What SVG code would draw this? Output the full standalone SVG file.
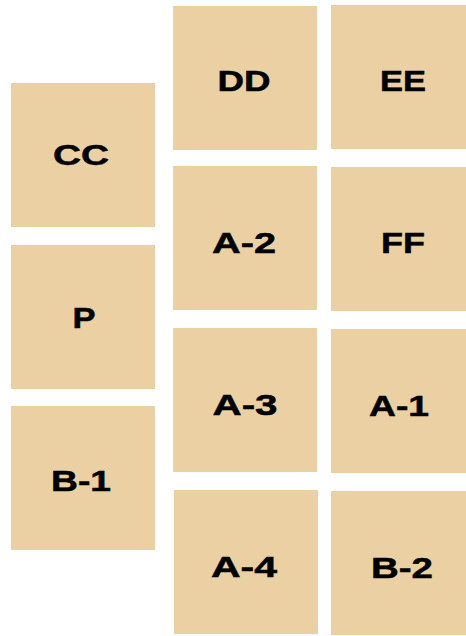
<svg xmlns="http://www.w3.org/2000/svg" width="466" height="636" viewBox="0 0 466 636">
<style>
.box{fill:#ebd0a4;}
.lbl{font-family:"Liberation Sans",Arial,sans-serif;font-weight:bold;font-size:29px;fill:#000;stroke:#000;stroke-width:0.5;text-anchor:middle;}
</style>
<rect width="466" height="636" fill="#fff"/>
<g id="connectors"/>
<g id="CC"><rect class="box" x="11" y="83" width="144" height="144"/><text class="lbl" x="81" y="165" textLength="56" lengthAdjust="spacingAndGlyphs">CC</text></g>
<g id="P"><rect class="box" x="11" y="245" width="144" height="144"/><text class="lbl" x="84" y="328" textLength="23" lengthAdjust="spacingAndGlyphs">P</text></g>
<g id="B-1"><rect class="box" x="11" y="406" width="144" height="144"/><text class="lbl" x="81" y="491" textLength="60" lengthAdjust="spacingAndGlyphs">B-1</text></g>
<g id="DD"><rect class="box" x="173" y="6" width="144" height="144"/><text class="lbl" x="244" y="91" textLength="53" lengthAdjust="spacingAndGlyphs">DD</text></g>
<g id="A-2"><rect class="box" x="173" y="166" width="144" height="144"/><text class="lbl" x="244" y="253" textLength="64" lengthAdjust="spacingAndGlyphs">A-2</text></g>
<g id="A-3"><rect class="box" x="173" y="328" width="144" height="144"/><text class="lbl" x="245" y="415" textLength="65" lengthAdjust="spacingAndGlyphs">A-3</text></g>
<g id="A-4"><rect class="box" x="174" y="490" width="144" height="144"/><text class="lbl" x="244" y="577" textLength="66" lengthAdjust="spacingAndGlyphs">A-4</text></g>
<g id="EE"><rect class="box" x="331" y="5" width="144" height="144"/><text class="lbl" x="403" y="91" textLength="46" lengthAdjust="spacingAndGlyphs">EE</text></g>
<g id="FF"><rect class="box" x="331" y="167" width="144" height="144"/><text class="lbl" x="403" y="253" textLength="44" lengthAdjust="spacingAndGlyphs">FF</text></g>
<g id="A-1"><rect class="box" x="331" y="329" width="144" height="144"/><text class="lbl" x="399" y="416" textLength="60" lengthAdjust="spacingAndGlyphs">A-1</text></g>
<g id="B-2"><rect class="box" x="331" y="491" width="144" height="144"/><text class="lbl" x="402" y="578" textLength="62" lengthAdjust="spacingAndGlyphs">B-2</text></g>
</svg>
